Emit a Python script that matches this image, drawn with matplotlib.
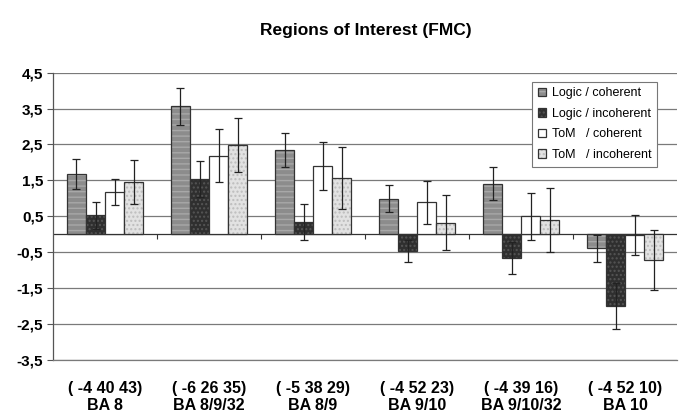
import matplotlib
matplotlib.use('Agg')
import matplotlib.pyplot as plt
import numpy as np

plt.rcParams['font.family'] = ['Liberation Sans', 'DejaVu Sans']

# regions (coordinates + Brodmann area)
coords = ['( -4 40 43)', '( -6 26 35)', '( -5 38 29)', '( -4 52 23)', '( -4 39 16)', '( -4 52 10)']
areas = ['BA 8', 'BA 8/9/32', 'BA 8/9', 'BA 9/10', 'BA 9/10/32', 'BA 10']

series_names = ['Logic / coherent', 'Logic / incoherent', 'ToM   / coherent', 'ToM   / incoherent']

logic_coh = [1.68, 3.56, 2.34, 0.99, 1.41, -0.39]
logic_inc = [0.53, 1.55, 0.33, -0.47, -0.66, -2.00]
tom_coh = [1.17, 2.19, 1.90, 0.89, 0.50, -0.03]
tom_inc = [1.45, 2.48, 1.57, 0.32, 0.40, -0.71]

logic_coh_err = [0.41, 0.52, 0.47, 0.37, 0.45, 0.37]
logic_inc_err = [0.38, 0.50, 0.50, 0.31, 0.45, 0.64]
tom_coh_err = [0.36, 0.74, 0.67, 0.60, 0.65, 0.56]
tom_inc_err = [0.61, 0.75, 0.86, 0.77, 0.88, 0.83]

values = [logic_coh, logic_inc, tom_coh, tom_inc]
errors = [logic_coh_err, logic_inc_err, tom_coh_err, tom_inc_err]
faces = ['#8c8c8c', '#2f2f2f', 'white', '#e2e2e2']
hatches = ['---', '....', None, '....']
hatch_cols = ['#a8a8a8', '#555555', 'black', '#bdbdbd']

fig = plt.figure(figsize=(6.84, 4.15), dpi=100)
ax = fig.add_axes([0.0775, 0.1325, 0.9125, 0.6925])

x = np.arange(len(coords))
w = 0.183
for i in range(4):
    bars = ax.bar(x + (i - 1.5) * w, values[i], w, color=faces[i],
                  edgecolor='#333333', linewidth=0.9, hatch=hatches[i],
                  label=series_names[i], zorder=3)
    for b in bars:
        b._hatch_color = matplotlib.colors.to_rgba(hatch_cols[i])
    ax.errorbar(x + (i - 1.5) * w, values[i], yerr=errors[i], fmt='none',
                ecolor='#222222', elinewidth=0.9, capsize=3, capthick=0.9, zorder=4)

ax.set_xlim(-0.5, len(coords) - 0.5)
ax.set_ylim(-3.5, 4.5)
yt = np.arange(-3.5, 4.6, 1.0)
ax.set_yticks(yt)
ax.set_yticklabels([('%.1f' % v).replace('.', ',') for v in yt], fontsize=11, fontweight='bold')
ax.yaxis.grid(True, color='#7a7a7a', linewidth=0.9, zorder=0)
ax.set_axisbelow(True)
ax.tick_params(axis='y', length=4, width=0.8, color='#555555', pad=3)

ax.set_xticks(x)
ax.set_xticklabels([c + '\n' + a for c, a in zip(coords, areas)], fontsize=11.5, fontweight='bold',
                   linespacing=1.15)
ax.tick_params(axis='x', length=0, pad=15)

# zero axis with group separator ticks
ax.axhline(0, color='#333333', linewidth=0.9, zorder=2)
ax.vlines(x[:-1] + 0.5, -0.13, 0, color='#333333', linewidth=0.8, zorder=2)

for s in ['top', 'right']:
    ax.spines[s].set_visible(False)
ax.spines['bottom'].set_color('#7a7a7a')
ax.spines['bottom'].set_linewidth(0.9)
ax.spines['left'].set_color('#555555')
ax.spines['left'].set_linewidth(0.9)

leg = ax.legend(loc='upper right', bbox_to_anchor=(0.968, 0.968), fontsize=9, frameon=True,
                fancybox=False, edgecolor='#777777', framealpha=1, handlelength=0.65,
                handleheight=0.65, handletextpad=0.5, labelspacing=0.68, borderpad=0.45,
                borderaxespad=0)
leg.get_frame().set_linewidth(0.8)

fig.suptitle('Regions of Interest (FMC)', x=0.535, y=0.945, fontsize=12.5, fontweight='bold')

fig.savefig('out.png', dpi=100)
